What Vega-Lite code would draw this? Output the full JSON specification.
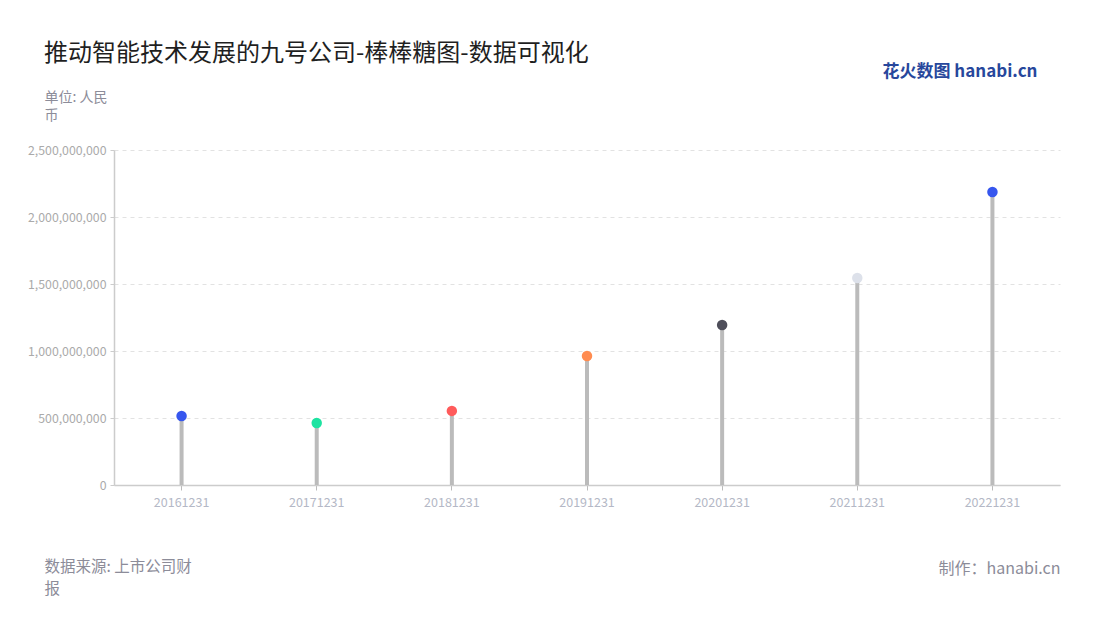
{
  "$schema": "https://vega.github.io/schema/vega-lite/v6.json",
  "autosize": "none",
  "width": 946,
  "height": 335,
  "padding": {"left": 114, "top": 150, "right": 40, "bottom": 135},
  "background": "white",
  "config": {
    "font": "Noto Sans CJK SC",
    "view": {"stroke": null}
  },
  "title": {
    "text": "推动智能技术发展的九号公司-棒棒糖图-数据可视化",
    "anchor": "start",
    "frame": "group",
    "dx": -70,
    "dy": 14,
    "fontSize": 24,
    "fontWeight": "normal",
    "color": "#1f1f1f",
    "offset": 10
  },
  "data": {
    "values": [
      {"date": "20161231", "value": 515000000},
      {"date": "20171231", "value": 463000000},
      {"date": "20181231", "value": 553000000},
      {"date": "20191231", "value": 963000000},
      {"date": "20201231", "value": 1194000000},
      {"date": "20211231", "value": 1545000000},
      {"date": "20221231", "value": 2186000000}
    ]
  },
  "resolve": {"axis": {"x": "independent", "y": "independent"}},
  "layer": [
    {
      "mark": {"type": "rule", "color": "#bbbbbb", "strokeWidth": 4},
      "encoding": {
        "x": {
          "field": "date", "type": "nominal", "sort": null,
          "scale": {"paddingInner": 0, "paddingOuter": 0},
          "axis": {
            "title": ["数据来源: 上市公司财", "报"],
            "labelAngle": 0,
            "labelColor": "#b4b8c6",
            "labelFontSize": 12.5,
            "labelPadding": 6,
            "domainColor": "#cccccc",
            "domainWidth": 1.5,
            "tickColor": "#bbbbbb",
            "tickSize": 5,
            "titleAnchor": "start",
            "titleAlign": "left",
            "titleX": -70,
            "titleY": 74,
            "titleFontSize": 15.5,
            "titleFontWeight": "normal",
            "titleColor": "#8c8c99",
            "titleLineHeight": 22
          }
        },
        "y": {
          "field": "value", "type": "quantitative",
          "scale": {"domain": [0, 2500000000], "nice": false, "zero": true},
          "axis": {
            "values": [0, 500000000, 1000000000, 1500000000, 2000000000, 2500000000],
            "format": ",d",
            "title": ["单位: 人民", "币"],
            "titleAngle": 0,
            "titleAlign": "left",
            "titleBaseline": "alphabetic",
            "titleX": -70,
            "titleY": -49,
            "titleFontSize": 14,
            "titleFontWeight": "normal",
            "titleColor": "#8c8c99",
            "titleLineHeight": 18,
            "labelColor": "#aaaaaa",
            "labelFontSize": 12.3,
            "labelPadding": 4,
            "domainColor": "#cccccc",
            "domainWidth": 1.5,
            "tickColor": "#cccccc",
            "tickSize": 4,
            "gridColor": "#e2e2e2",
            "gridDash": [4, 4],
            "gridWidth": 1
          }
        },
        "y2": {"datum": 0}
      }
    },
    {
      "mark": {"type": "point", "filled": true, "opacity": 1, "size": 110},
      "encoding": {
        "x": {
          "field": "date", "type": "nominal", "sort": null,
          "axis": {
            "orient": "top",
            "title": "花火数图 hanabi.cn",
            "labels": false, "ticks": false, "domain": false, "grid": false,
            "titleAnchor": "end",
            "titleAlign": "right",
            "titleX": 923,
            "titleY": -70,
            "titleFontSize": 17,
            "titleFontWeight": "bold",
            "titleColor": "#27479c"
          }
        },
        "y": {
          "field": "value", "type": "quantitative",
          "scale": {"domain": [0, 2500000000], "nice": false, "zero": true},
          "axis": {
            "orient": "right",
            "title": "制作：hanabi.cn",
            "labels": false, "ticks": false, "domain": false, "grid": false,
            "titleAngle": 0,
            "titleAlign": "right",
            "titleBaseline": "alphabetic",
            "titleX": 0,
            "titleY": 423,
            "titleFontSize": 16,
            "titleFontWeight": "normal",
            "titleColor": "#8c8c99"
          }
        },
        "color": {
          "field": "date", "type": "nominal", "sort": null,
          "scale": {"range": ["#3656ee", "#1de3a1", "#ff5b5b", "#ff8c50", "#4e4e5a", "#dde1ea", "#3656ee"]},
          "legend": null
        }
      }
    }
  ]
}
